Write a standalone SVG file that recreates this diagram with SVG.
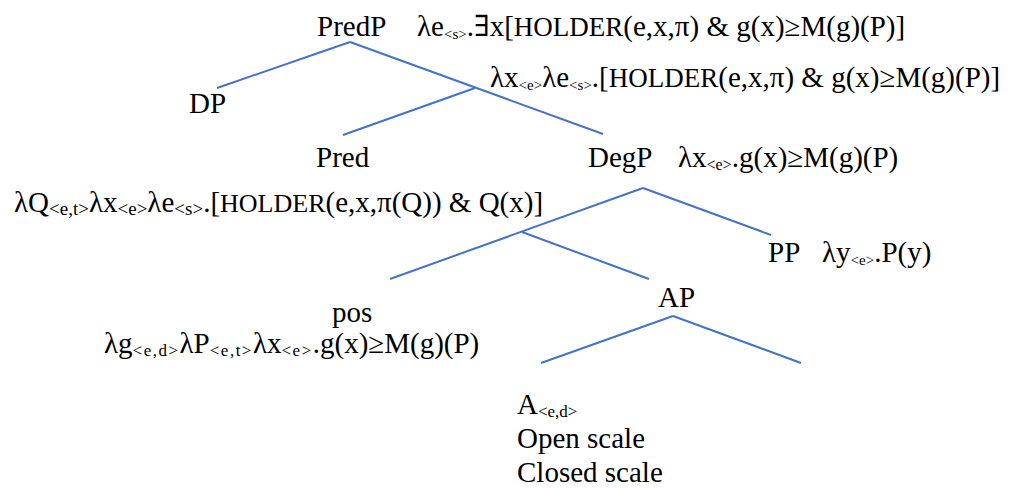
<svg xmlns="http://www.w3.org/2000/svg" width="1015" height="488" viewBox="0 0 1015 488">
<style>
text{font-family:"Liberation Serif","DejaVu Serif","Times New Roman",serif;font-size:29px;fill:#000}
.s{font-size:15px}
.s2{font-size:19px}
.s3{font-size:17px;letter-spacing:1.5px}
.h{font-size:27px}
.e{stroke:#4472C4;stroke-width:2;fill:none}
</style>
<rect width="1015" height="488" fill="#fff"/>
<g id="connectors">
<line class="e" x1="350" y1="42" x2="217" y2="88"/>
<line class="e" x1="350" y1="42" x2="603" y2="134"/>
<line class="e" x1="475" y1="88" x2="343" y2="135"/>
<line class="e" x1="643" y1="188" x2="771" y2="235"/>
<line class="e" x1="643" y1="188" x2="390" y2="279"/>
<line class="e" x1="522" y1="232" x2="649" y2="279"/>
<line class="e" x1="673" y1="316" x2="541" y2="363"/>
<line class="e" x1="673" y1="316" x2="801" y2="363"/>
</g>
<g id="PredP">
<text x="317" y="36">PredP</text>
<text x="417" y="36">λe<tspan class="s" dy="3">&lt;s&gt;</tspan><tspan dy="-3">.∃x[</tspan><tspan class="h">HOLDER</tspan>(e,x,π) &amp; g(x)≥M(g)(P)]</text>
</g>
<g id="Pbar">
<text x="490" y="87">λx<tspan class="s" dy="3">&lt;e&gt;</tspan><tspan dy="-3">λe</tspan><tspan class="s" dy="3">&lt;s&gt;</tspan><tspan dy="-3">.[</tspan><tspan class="h">HOLDER</tspan>(e,x,π) &amp; g(x)≥M(g)(P)]</text>
</g>
<g id="DP">
<text x="189" y="113">DP</text>
</g>
<g id="Pred">
<text x="316" y="167">Pred</text>
<text x="14" y="212">λQ<tspan class="s2" dy="3">&lt;e,t&gt;</tspan><tspan dy="-3">λx</tspan><tspan class="s2" dy="3">&lt;e&gt;</tspan><tspan dy="-3">λe</tspan><tspan class="s2" dy="3">&lt;s&gt;</tspan><tspan dy="-3">.[</tspan><tspan style="font-size:26px">HOLDER</tspan>(e,x,π(Q)) &amp; Q(x)]</text>
</g>
<g id="DegP">
<text x="588" y="167">DegP</text>
<text x="678" y="167">λx<tspan dy="3" style="font-size:16px">&lt;e&gt;</tspan><tspan dy="-3">.g(x)≥M(g)(P)</tspan></text>
</g>
<g id="PP">
<text x="768" y="262">PP</text>
<text x="822" y="262">λy<tspan class="s" dy="3">&lt;e&gt;</tspan><tspan dy="-3">.P(y)</tspan></text>
</g>
<g id="pos">
<text x="332" y="322">pos</text>
<text x="104" y="353">λg<tspan class="s3" dy="3">&lt;e,d&gt;</tspan><tspan dy="-3">λP</tspan><tspan class="s3" dy="3">&lt;e,t&gt;</tspan><tspan dy="-3">λx</tspan><tspan class="s3" dy="3">&lt;e&gt;</tspan><tspan dy="-3">.g(x)≥M(g)(P)</tspan></text>
</g>
<g id="AP">
<text x="658" y="307">AP</text>
</g>
<g id="A">
<text x="517" y="414">A<tspan dy="3" style="font-size:17px">&lt;e,d&gt;</tspan></text>
<text x="517" y="448">Open scale</text>
<text x="517" y="482">Closed scale</text>
</g>
</svg>
